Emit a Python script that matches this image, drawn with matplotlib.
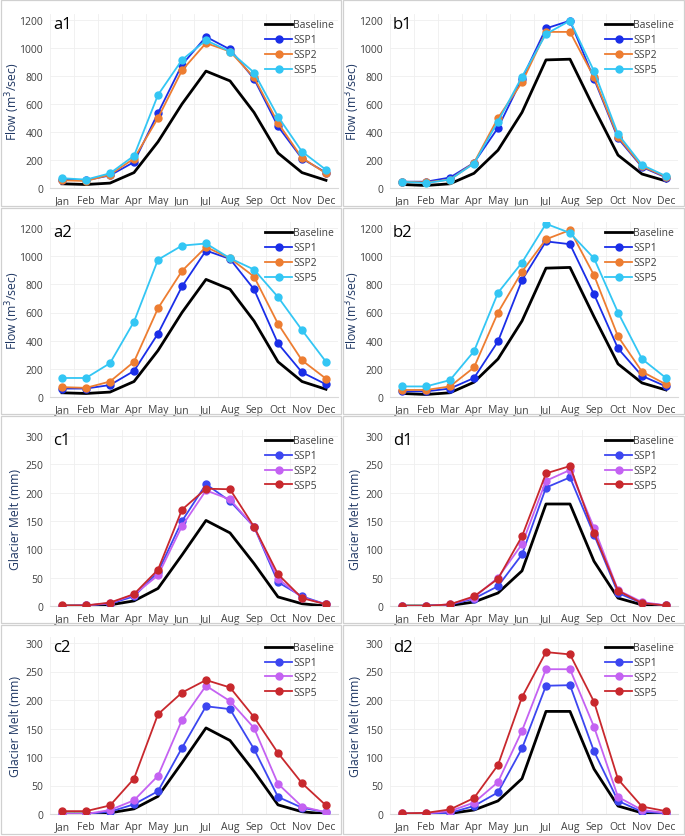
import numpy as np
import matplotlib.pyplot as plt
from matplotlib.patches import Rectangle

plt.rcParams['font.family'] = ['Open Sans', 'DejaVu Sans']

months = ['Jan', 'Feb', 'Mar', 'Apr', 'May', 'Jun', 'Jul', 'Aug', 'Sep', 'Oct', 'Nov', 'Dec']

# flow, baseline shared by a/b panels
flow_base_a = [30, 25, 35, 110, 330, 600, 835, 765, 540, 250, 110, 55]
flow_base_b = [25, 18, 30, 105, 270, 540, 915, 920, 570, 235, 100, 50]

a1_ssp1 = [60, 55, 90, 185, 535, 880, 1080, 990, 780, 440, 210, 110]
a1_ssp2 = [55, 50, 95, 210, 500, 840, 1035, 975, 790, 465, 215, 105]
a1_ssp5 = [70, 60, 105, 230, 665, 915, 1055, 975, 825, 510, 260, 130]

b1_ssp1 = [45, 45, 75, 180, 430, 780, 1140, 1195, 780, 355, 150, 75]
b1_ssp2 = [45, 40, 60, 180, 500, 755, 1115, 1115, 790, 365, 155, 80]
b1_ssp5 = [45, 35, 60, 175, 475, 795, 1100, 1195, 835, 385, 165, 85]

a2_ssp1 = [60, 60, 85, 185, 450, 785, 1040, 980, 765, 380, 175, 90]
a2_ssp2 = [70, 65, 110, 250, 630, 895, 1065, 985, 855, 520, 260, 130]
a2_ssp5 = [135, 135, 240, 535, 975, 1075, 1090, 985, 905, 710, 475, 250]

b2_ssp1 = [40, 40, 60, 135, 395, 830, 1105, 1085, 730, 345, 150, 75]
b2_ssp2 = [50, 50, 75, 210, 600, 890, 1120, 1185, 865, 430, 180, 90]
b2_ssp5 = [75, 75, 120, 325, 740, 955, 1230, 1165, 985, 600, 270, 135]

# glacier melt
melt_base_c = [0, 0, 2, 9, 31, 90, 151, 129, 75, 16, 4, 0]
melt_base_d = [0, 0, 1, 7, 23, 62, 180, 180, 79, 14, 2, 0]

c1_ssp1 = [0, 1, 4, 17, 60, 150, 215, 185, 140, 42, 17, 3]
c1_ssp2 = [0, 1, 5, 20, 54, 141, 204, 188, 140, 48, 15, 3]
c1_ssp5 = [1, 1, 6, 21, 64, 170, 207, 206, 140, 56, 14, 3]

d1_ssp1 = [0, 0, 2, 13, 35, 91, 209, 227, 126, 23, 5, 1]
d1_ssp2 = [0, 0, 3, 15, 50, 109, 221, 240, 138, 28, 7, 1]
d1_ssp5 = [0, 0, 3, 17, 48, 123, 234, 247, 129, 27, 5, 1]

c2_ssp1 = [0, 0, 4, 17, 40, 116, 189, 184, 114, 30, 11, 3]
c2_ssp2 = [0, 0, 7, 24, 67, 165, 225, 198, 151, 53, 13, 3]
c2_ssp5 = [5, 5, 15, 62, 175, 213, 235, 222, 170, 107, 54, 15]

d2_ssp1 = [0, 0, 2, 14, 38, 115, 225, 226, 110, 23, 4, 1]
d2_ssp2 = [1, 1, 5, 20, 56, 146, 254, 254, 153, 30, 7, 2]
d2_ssp5 = [1, 2, 8, 28, 86, 205, 284, 280, 197, 61, 13, 5]

flow_colors = ['#1a2ee8', '#ed7d31', '#33c6f4']
melt_colors = ['#3c46f0', '#c462f2', '#c8282d']

W, H = 685, 837
fig = plt.figure(figsize=(W / 100, H / 100), dpi=100)

panels = [
    ('a1', 0, 0, flow_base_a, [a1_ssp1, a1_ssp2, a1_ssp5], 'flow'),
    ('b1', 1, 0, flow_base_b, [b1_ssp1, b1_ssp2, b1_ssp5], 'flow'),
    ('a2', 0, 1, flow_base_a, [a2_ssp1, a2_ssp2, a2_ssp5], 'flow'),
    ('b2', 1, 1, flow_base_b, [b2_ssp1, b2_ssp2, b2_ssp5], 'flow'),
    ('c1', 0, 2, melt_base_c, [c1_ssp1, c1_ssp2, c1_ssp5], 'melt'),
    ('d1', 1, 2, melt_base_d, [d1_ssp1, d1_ssp2, d1_ssp5], 'melt'),
    ('c2', 0, 3, melt_base_c, [c2_ssp1, c2_ssp2, c2_ssp5], 'melt'),
    ('d2', 1, 3, melt_base_d, [d2_ssp1, d2_ssp2, d2_ssp5], 'melt'),
]

# pixel layout: zero line and top tick line per row, left/right of plot area per column
row_zero = [189, 398, 607, 815]
row_top = [21, 229, 437, 644]
col_left = [50, 390]
col_right = [338, 678]
row_box = [(1, 207), (209, 415), (417, 624), (626, 835)]
col_box = [(1, 341), (343, 684)]

for name, col, row, base, ssps, kind in panels:
    # panel frame
    x0, x1 = col_box[col]
    y0, y1 = row_box[row]
    fig.patches.append(Rectangle((x0 / W, 1 - y1 / H), (x1 - x0) / W, (y1 - y0) / H,
                                 transform=fig.transFigure, fill=False,
                                 edgecolor='#d0d0d0', linewidth=0.9))

    if kind == 'flow':
        ymax_tick, step, colors = 1200, 200, flow_colors
        ylabel = 'Flow (m$^3$/sec)'
    else:
        ymax_tick, step, colors = 300, 50, melt_colors
        ylabel = 'Glacier Melt (mm)'
    ytop = ymax_tick * 1.035
    zero_px, top_px = row_zero[row], row_top[row]
    ax_top = zero_px - (zero_px - top_px) * ytop / ymax_tick
    left, right = col_left[col], col_right[col]
    ax = fig.add_axes([left / W, 1 - zero_px / H, (right - left) / W, (zero_px - ax_top) / H])

    x = np.arange(len(months))
    ax.plot(x, base, color='black', lw=2.0, label='Baseline', zorder=3)
    for vals, c, lab in zip(ssps, colors, ['SSP1', 'SSP2', 'SSP5']):
        ax.plot(x, vals, color=c, lw=1.3, marker='o', markersize=5, label=lab, zorder=4)

    ax.set_xlim(-0.5, 11.5)
    ax.set_ylim(0, ytop)
    ax.set_yticks(np.arange(0, ymax_tick + 1, step))
    ax.set_xticks(x)
    ax.set_xticklabels(months)
    ax.set_xticks(np.arange(-0.5, 12, 1), minor=True)
    ax.tick_params(axis='both', which='both', length=0, labelsize=7.5, colors='#404040', pad=5)
    ax.grid(axis='y', which='major', color='#efefef', lw=0.6)
    ax.grid(axis='x', which='minor', color='#efefef', lw=0.6)
    ax.set_axisbelow(True)
    for s in ['top', 'right', 'left']:
        ax.spines[s].set_visible(False)
    ax.spines['bottom'].set_color('#d9d9d9')
    ax.spines['bottom'].set_linewidth(0.8)

    ax.set_ylabel(ylabel, color='#203864', fontsize=8.8)
    ax.yaxis.set_label_coords(-0.098, 0.5)
    ax.text(0.01, 0.99, name, transform=ax.transAxes, fontsize=12, va='top', ha='left')
    leg = ax.legend(loc='upper right', frameon=False, fontsize=7.5, handlelength=2.6,
                    handletextpad=0.1, labelspacing=0.38, borderaxespad=0.1,
                    bbox_to_anchor=(1.005, 1.0))
    for t in leg.get_texts():
        t.set_color('#404040')

fig.savefig('out.png', dpi=100, facecolor='white')
